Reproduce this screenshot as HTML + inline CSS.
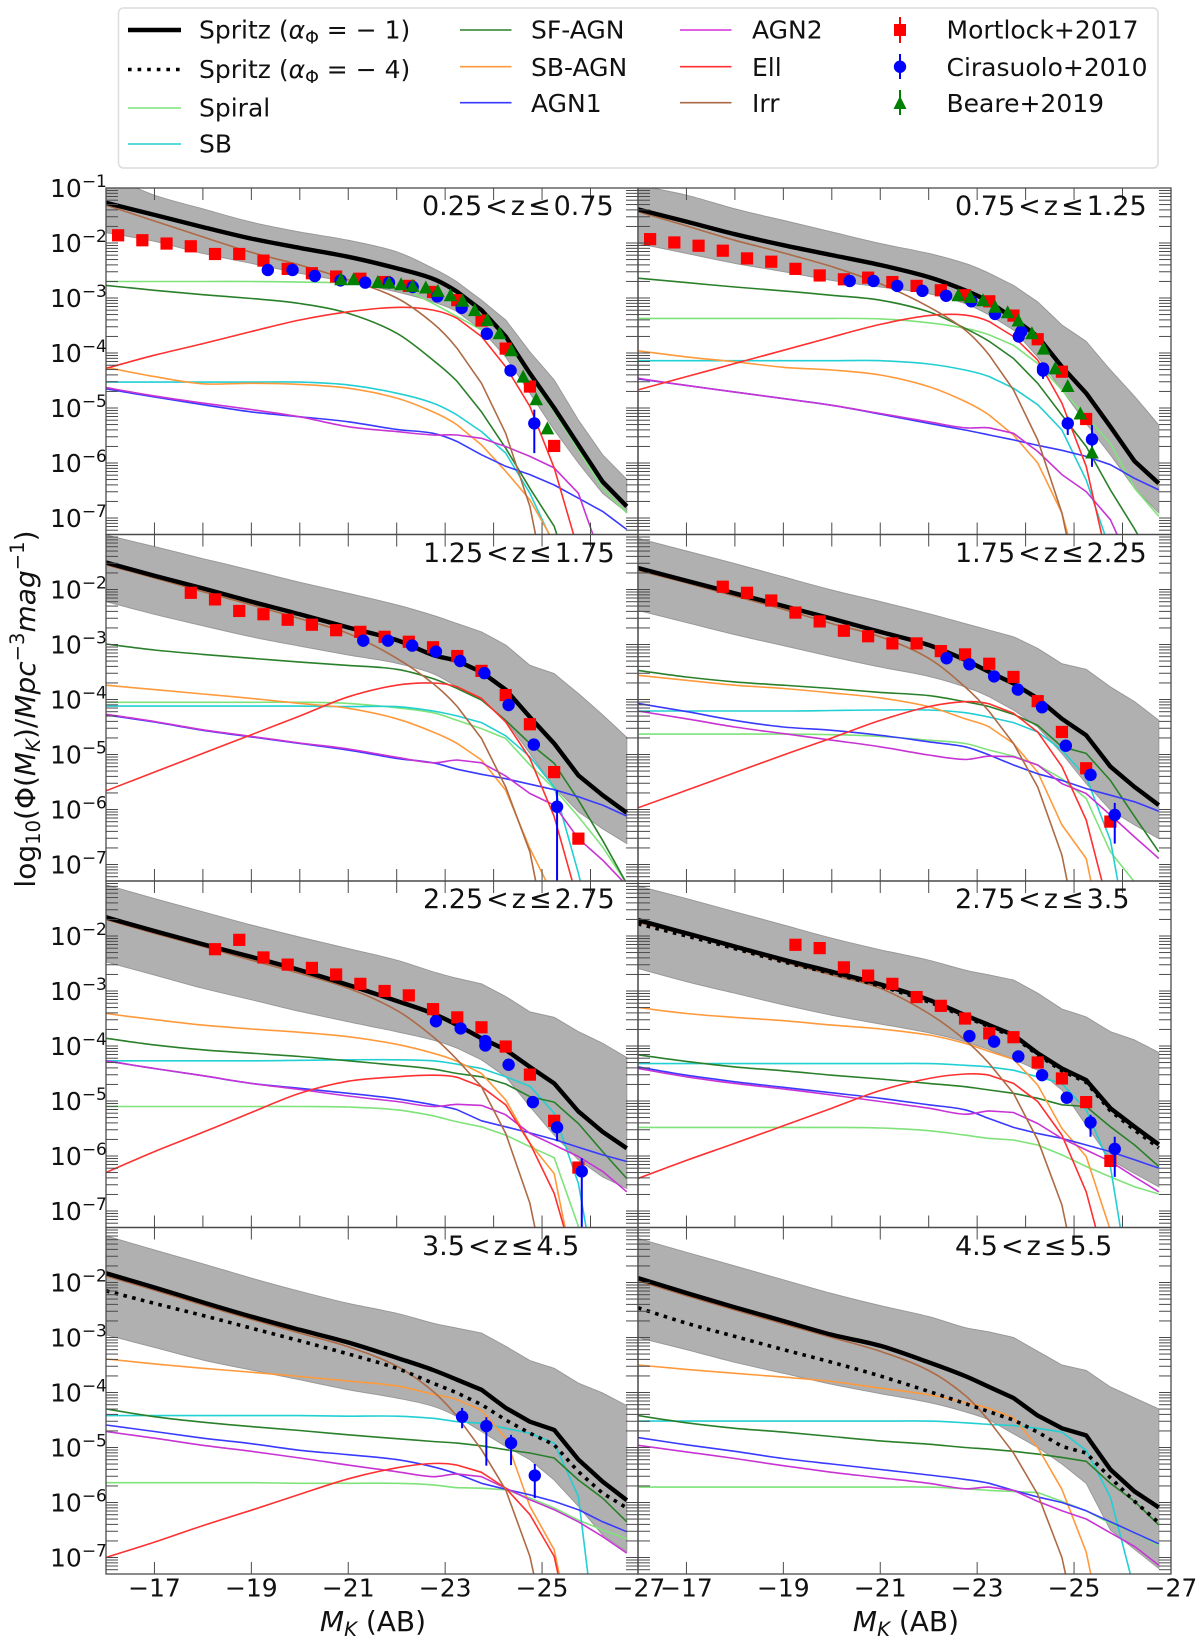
<!DOCTYPE html>
<html lang="en">
<head>
<meta charset="utf-8">
<title>Luminosity functions</title>
<style>
html,body{margin:0;padding:0;background:#fff;}
svg{display:block;font-family:"DejaVu Sans","Liberation Sans",sans-serif;}
text{fill:#111;}
</style>
</head>
<body>
<svg id="chart" xmlns="http://www.w3.org/2000/svg" width="1200" height="1644" viewBox="0 0 1200 1644">
<defs>
<clipPath id="clip-0"><rect x="106" y="188" width="532" height="346.5"/></clipPath>
<clipPath id="clip-1"><rect x="638" y="188" width="533" height="346.5"/></clipPath>
<clipPath id="clip-2"><rect x="106" y="534.5" width="532" height="346.5"/></clipPath>
<clipPath id="clip-3"><rect x="638" y="534.5" width="533" height="346.5"/></clipPath>
<clipPath id="clip-4"><rect x="106" y="881" width="532" height="346.5"/></clipPath>
<clipPath id="clip-5"><rect x="638" y="881" width="533" height="346.5"/></clipPath>
<clipPath id="clip-6"><rect x="106" y="1227.5" width="532" height="346.5"/></clipPath>
<clipPath id="clip-7"><rect x="638" y="1227.5" width="533" height="346.5"/></clipPath>
</defs>

<g id="panels"></g>

<g font-size="27">
<text x="422" y="215">0.25<tspan dx="3">&lt;</tspan><tspan dx="3">z</tspan><tspan dx="3">≤</tspan><tspan dx="3">0.75</tspan></text>
<text x="955" y="215">0.75<tspan dx="3">&lt;</tspan><tspan dx="3">z</tspan><tspan dx="3">≤</tspan><tspan dx="3">1.25</tspan></text>
<text x="423" y="562">1.25<tspan dx="3">&lt;</tspan><tspan dx="3">z</tspan><tspan dx="3">≤</tspan><tspan dx="3">1.75</tspan></text>
<text x="955" y="562">1.75<tspan dx="3">&lt;</tspan><tspan dx="3">z</tspan><tspan dx="3">≤</tspan><tspan dx="3">2.25</tspan></text>
<text x="423" y="908">2.25<tspan dx="3">&lt;</tspan><tspan dx="3">z</tspan><tspan dx="3">≤</tspan><tspan dx="3">2.75</tspan></text>
<text x="955" y="908">2.75<tspan dx="3">&lt;</tspan><tspan dx="3">z</tspan><tspan dx="3">≤</tspan><tspan dx="3">3.5</tspan></text>
<text x="422" y="1255">3.5<tspan dx="3">&lt;</tspan><tspan dx="3">z</tspan><tspan dx="3">≤</tspan><tspan dx="3">4.5</tspan></text>
<text x="955" y="1255">4.5<tspan dx="3">&lt;</tspan><tspan dx="3">z</tspan><tspan dx="3">≤</tspan><tspan dx="3">5.5</tspan></text>
</g>

<text x="373" y="1631" font-size="28" text-anchor="middle"><tspan font-style="italic">M</tspan><tspan font-size="19.6" font-style="italic" dy="5">K</tspan><tspan dy="-5"> (AB)</tspan></text>
<text x="906" y="1631" font-size="28" text-anchor="middle"><tspan font-style="italic">M</tspan><tspan font-size="19.6" font-style="italic" dy="5">K</tspan><tspan dy="-5"> (AB)</tspan></text>
<text transform="translate(35,709) rotate(-90)" font-size="28" text-anchor="middle">log<tspan font-size="19.6" dy="5">10</tspan><tspan dy="-5">(Φ(</tspan><tspan font-style="italic">M</tspan><tspan font-size="19.6" font-style="italic" dy="5">K</tspan><tspan dy="-5">)/</tspan><tspan font-style="italic">Mpc</tspan><tspan font-size="19.6" dy="-11">−3</tspan><tspan font-style="italic" dy="11">mag</tspan><tspan font-size="19.6" dy="-11">−1</tspan><tspan dy="11">)</tspan></text>

<g>
<rect x="118.5" y="8" width="1039.5" height="160" rx="5" ry="5" fill="#fff" stroke="#dcdcdc" stroke-width="1.5"/>
<g font-size="25">
<g><line x1="128" x2="181" y1="30" y2="30" stroke="#000" stroke-width="4.5"/><text x="199" y="38.3">Spritz (<tspan font-style="italic">α</tspan><tspan font-size="17.5" dy="5">Φ</tspan><tspan dy="-5"> = − 1)</tspan></text></g>
<g><line x1="128" x2="181" y1="69.5" y2="69.5" stroke="#000" stroke-width="3.6" stroke-dasharray="3.6,6"/><text x="199" y="78">Spritz (<tspan font-style="italic">α</tspan><tspan font-size="17.5" dy="5">Φ</tspan><tspan dy="-5"> = − 4)</tspan></text></g>
<g><line x1="128" x2="181" y1="108" y2="108" stroke="#7fe37a" stroke-width="1.6"/><text x="199" y="116.7">Spiral</text></g>
<g><line x1="128" x2="181" y1="144" y2="144" stroke="#22cfd3" stroke-width="1.6"/><text x="199" y="152.7">SB</text></g>
<g><line x1="460" x2="511.5" y1="30" y2="30" stroke="#2a802a" stroke-width="1.6"/><text x="531" y="38.3">SF-AGN</text></g>
<g><line x1="460" x2="511.5" y1="66.7" y2="66.7" stroke="#ff9a3c" stroke-width="1.6"/><text x="531" y="76">SB-AGN</text></g>
<g><line x1="460" x2="511.5" y1="102.7" y2="102.7" stroke="#3a3aff" stroke-width="1.6"/><text x="531" y="112">AGN1</text></g>
<g><line x1="680" x2="731.5" y1="30" y2="30" stroke="#d62fdc" stroke-width="1.6"/><text x="752" y="38.3">AGN2</text></g>
<g><line x1="680" x2="731.5" y1="66.7" y2="66.7" stroke="#ff3030" stroke-width="1.6"/><text x="752" y="76">Ell</text></g>
<g><line x1="680" x2="731.5" y1="102.7" y2="102.7" stroke="#ad6a45" stroke-width="1.6"/><text x="752" y="112">Irr</text></g>
<g><line x1="900" x2="900" y1="17" y2="43" stroke="#f00" stroke-width="2"/><rect x="894" y="24" width="12" height="12" fill="#f00"/><text x="946.5" y="38.3">Mortlock+2017</text></g>
<g><line x1="900" x2="900" y1="54" y2="79" stroke="#00f" stroke-width="2"/><circle cx="900" cy="66.7" r="6.2" fill="#00f"/><text x="946.5" y="76">Cirasuolo+2010</text></g>
<g><line x1="900" x2="900" y1="90" y2="115" stroke="#008000" stroke-width="2"/><polygon points="900,96 906.5,109 893.5,109" fill="#008000"/><text x="946.5" y="112">Beare+2019</text></g>
</g>
</g>
</svg>

<script>
// Absolute K magnitude nodes shared by all model curves
const magGrid = [-16,-17,-18,-19,-20,-21,-22,-22.75,-23.25,-23.75,-24.25,-24.75,-25.25,-25.75,-26.25,-26.75];
const xTickMajor = [-17,-19,-21,-23,-25,-27];
const xTickLabels = ['−17','−19','−21','−23','−25','−27'];
const xTickAll = [-17,-18,-19,-20,-21,-22,-23,-24,-25,-26,-27];
const yDecades = [-1,-2,-3,-4,-5,-6,-7];
const yDecadeLabels = ['−1','−2','−3','−4','−5','−6','−7'];

// Panel 0: 0.25<z<=0.75  (all values log10 Phi)
const p0Spritz=[-1.27,-1.49,-1.71,-1.92,-2.09,-2.25,-2.46,-2.65,-2.89,-3.22,-3.70,-4.37,-5.0,-5.67,-6.34,-6.79];
const p0High=[-0.76,-1.13,-1.38,-1.62,-1.8,-1.95,-2.16,-2.46,-2.71,-3.04,-3.40,-3.98,-4.49,-5.22,-5.85,-6.3];
const p0Low=[-1.81,-1.97,-2.19,-2.37,-2.55,-2.71,-2.89,-3.07,-3.25,-3.58,-4.07,-4.73,-5.40,-6.0,-6.55,-6.9];
const p0Irr=[-1.31,-1.60,-1.89,-2.17,-2.40,-2.67,-3.0,-3.46,-3.92,-4.55,-5.46,-6.79,-9,-9,-9,-9];
const p0Spiral=[-2.70,-2.70,-2.70,-2.70,-2.71,-2.73,-2.80,-3.10,-3.34,-3.58,-3.76,-4.43,-5.07,-5.76,-6.46,-6.91];
const p0SfAgn=[-2.77,-2.86,-2.94,-3.01,-3.10,-3.28,-3.64,-4.13,-4.52,-5.07,-5.73,-6.46,-7.15,-8.5,-9.5,-10];
const p0Ell=[-4.28,-4.04,-3.83,-3.61,-3.40,-3.25,-3.17,-3.22,-3.37,-3.70,-4.25,-4.97,-6.09,-7.6,-9,-10];
const p0SbAgn=[-4.26,-4.43,-4.56,-4.55,-4.57,-4.64,-4.82,-5.07,-5.31,-5.67,-6.15,-6.67,-7.45,-9,-10,-10];
const p0Sb=[-4.53,-4.53,-4.53,-4.53,-4.53,-4.58,-4.73,-4.91,-5.13,-5.43,-5.82,-6.55,-7.5,-9,-10,-10];
const p0Agn1=[-4.65,-4.8,-4.94,-5.07,-5.16,-5.25,-5.39,-5.46,-5.61,-5.85,-6.06,-6.21,-6.40,-6.64,-6.88,-7.21];
const p0Agn2=[-4.63,-4.78,-4.91,-5.03,-5.16,-5.34,-5.43,-5.49,-5.49,-5.55,-5.7,-5.88,-6.09,-6.55,-7.8,-9];
const p0MortMag=[-16.25,-16.75,-17.25,-17.75,-18.25,-18.75,-19.25,-19.75,-20.25,-20.75,-21.25,-21.75,-22.25,-22.75,-23.25,-23.75,-24.25,-24.75,-25.25];
const p0MortPhi=[-1.86,-1.95,-2.01,-2.06,-2.2,-2.2,-2.32,-2.47,-2.55,-2.61,-2.65,-2.71,-2.78,-2.89,-3.04,-3.41,-3.92,-4.61,-5.69];
const p0CirMag=[-19.34,-19.85,-20.31,-20.84,-21.35,-21.84,-22.33,-22.84,-23.34,-23.86,-24.35,-24.84];
const p0CirPhi=[-2.49,-2.49,-2.60,-2.68,-2.72,-2.72,-2.80,-2.97,-3.18,-3.65,-4.32,-5.28];
const p0CirErrLo=[0,0,0,0,0,0,0,0,0,0,0,0.54];
const p0CirErrHi=[0,0,0,0,0,0,0,0,0,0,0,0.25];
const p0BeaMag=[-20.85,-21.11,-21.61,-21.84,-22.09,-22.33,-22.6,-22.85,-23.11,-23.36,-23.61,-23.87,-24.12,-24.37,-24.61,-24.88,-25.11];
const p0BeaPhi=[-2.66,-2.66,-2.71,-2.72,-2.75,-2.78,-2.81,-2.87,-2.95,-3.05,-3.22,-3.40,-3.64,-3.95,-4.43,-4.84,-5.37];

// Panel 1: 0.75<z<=1.25
const p1Spritz=[-1.39,-1.61,-1.84,-2.04,-2.22,-2.40,-2.62,-2.86,-3.07,-3.37,-3.70,-4.25,-4.73,-5.34,-5.97,-6.37];
const p1High=[-0.95,-1.13,-1.38,-1.59,-1.80,-2.01,-2.19,-2.37,-2.55,-2.77,-3.07,-3.49,-3.79,-4.31,-4.79,-5.31];
const p1Low=[-2.01,-2.19,-2.37,-2.52,-2.68,-2.80,-2.92,-3.10,-3.31,-3.58,-4.07,-4.67,-5.28,-5.85,-6.46,-6.91];
const p1Irr=[-1.43,-1.69,-1.95,-2.18,-2.43,-2.74,-3.16,-3.58,-4.04,-4.67,-5.58,-6.91,-9,-9,-9,-9];
const p1Spiral=[-3.37,-3.37,-3.37,-3.37,-3.37,-3.38,-3.45,-3.55,-3.67,-3.86,-4.19,-4.67,-5.16,-5.64,-6.46,-6.97];
const p1SfAgn=[-2.64,-2.72,-2.80,-2.87,-2.95,-3.04,-3.25,-3.55,-3.79,-4.10,-4.55,-5.13,-5.70,-6.49,-7.2,-8];
const p1Ell=[-4.67,-4.43,-4.19,-3.95,-3.71,-3.48,-3.32,-3.31,-3.43,-3.70,-4.13,-4.91,-6.06,-8,-9,-10];
const p1SbAgn=[-3.96,-4.07,-4.16,-4.26,-4.31,-4.40,-4.61,-4.88,-5.13,-5.49,-6.0,-6.91,-8.5,-9,-10,-10];
const p1Sb=[-4.14,-4.14,-4.14,-4.14,-4.14,-4.14,-4.20,-4.31,-4.43,-4.64,-4.94,-5.40,-6.31,-7.6,-9,-10];
const p1Agn1=[-4.47,-4.59,-4.71,-4.83,-4.95,-5.11,-5.28,-5.40,-5.49,-5.58,-5.68,-5.77,-5.88,-6.03,-6.28,-6.49];
const p1Agn2=[-4.46,-4.59,-4.71,-4.83,-4.95,-5.10,-5.25,-5.36,-5.36,-5.46,-5.79,-6.21,-6.52,-7.03,-8,-9];
const p1MortMag=[-16.25,-16.75,-17.25,-17.75,-18.25,-18.75,-19.25,-19.75,-20.25,-20.75,-21.25,-21.75,-22.25,-22.75,-23.25,-23.75,-24.25,-24.75,-25.25];
const p1MortPhi=[-1.93,-1.99,-2.05,-2.14,-2.28,-2.34,-2.47,-2.59,-2.66,-2.63,-2.71,-2.78,-2.86,-2.95,-3.06,-3.32,-3.75,-4.34,-5.20];
const p1CirMag=[-20.37,-20.86,-21.35,-21.87,-22.36,-22.88,-23.37,-23.86,-23.91,-24.36,-24.36,-24.87,-25.37];
const p1CirPhi=[-2.69,-2.69,-2.78,-2.87,-2.96,-3.06,-3.29,-3.70,-3.61,-4.28,-4.32,-5.28,-5.57];
const p1CirErrLo=[0,0,0,0,0,0,0,0,0,0,0.15,0.21,0.50];
const p1CirErrHi=[0,0,0,0,0,0,0,0,0,0,0,0.12,0.26];
const p1BeaMag=[-22.61,-22.86,-23.12,-23.37,-23.63,-23.85,-24.13,-24.37,-24.61,-24.87,-25.13,-25.37];
const p1BeaPhi=[-2.95,-2.98,-3.04,-3.16,-3.26,-3.41,-3.64,-3.92,-4.28,-4.60,-5.10,-5.81];

// Panel 2: 1.25<z<=1.75
const p2Spritz=[-1.51,-1.75,-1.98,-2.22,-2.45,-2.69,-2.92,-3.19,-3.30,-3.50,-3.82,-4.32,-4.80,-5.38,-5.74,-6.06];
const p2High=[-1.01,-1.22,-1.44,-1.65,-1.87,-2.07,-2.28,-2.47,-2.62,-2.77,-3.01,-3.38,-3.53,-3.89,-4.28,-4.69];
const p2Low=[-2.22,-2.45,-2.66,-2.86,-3.03,-3.19,-3.34,-3.53,-3.77,-4.01,-4.38,-4.98,-5.59,-6.04,-6.35,-6.62];
const p2Irr=[-1.55,-1.79,-2.04,-2.28,-2.53,-2.80,-3.25,-3.71,-4.13,-4.71,-5.59,-6.77,-9,-9,-9,-9];
const p2Spiral=[-4.05,-4.05,-4.05,-4.05,-4.05,-4.07,-4.15,-4.24,-4.38,-4.53,-4.71,-5.19,-5.62,-6.13,-6.68,-7.35];
const p2SfAgn=[-2.99,-3.10,-3.18,-3.25,-3.32,-3.38,-3.45,-3.62,-3.80,-4.01,-4.38,-4.80,-5.16,-5.83,-6.56,-7.35];
const p2Ell=[-5.66,-5.32,-4.98,-4.64,-4.30,-3.95,-3.74,-3.70,-3.77,-3.98,-4.41,-5.07,-6.13,-7.7,-9,-10];
const p2SbAgn=[-3.74,-3.82,-3.90,-3.98,-4.07,-4.16,-4.35,-4.59,-4.80,-5.10,-5.65,-6.71,-7.6,-9,-10,-10];
const p2Sb=[-4.12,-4.12,-4.12,-4.12,-4.12,-4.13,-4.13,-4.21,-4.30,-4.42,-4.66,-5.04,-5.59,-7.16,-9,-10];
const p2Agn1=[-4.28,-4.41,-4.56,-4.68,-4.80,-4.92,-5.07,-5.15,-5.27,-5.36,-5.44,-5.54,-5.64,-5.77,-5.92,-6.12];
const p2Agn2=[-4.27,-4.40,-4.55,-4.67,-4.79,-4.90,-5.05,-5.15,-5.10,-5.15,-5.39,-5.71,-5.92,-6.53,-6.92,-7.38];
const p2MortMag=[-17.75,-18.25,-18.75,-19.25,-19.75,-20.25,-20.75,-21.25,-21.75,-22.25,-22.75,-23.25,-23.75,-24.25,-24.75,-25.25,-25.75];
const p2MortPhi=[-2.06,-2.18,-2.39,-2.45,-2.55,-2.64,-2.74,-2.77,-2.86,-2.95,-3.05,-3.21,-3.48,-3.92,-4.45,-5.32,-6.53];
const p2CirMag=[-21.31,-21.82,-22.32,-22.81,-23.31,-23.81,-24.31,-24.83,-25.31];
const p2CirPhi=[-2.93,-2.93,-3.02,-3.13,-3.30,-3.52,-4.10,-4.82,-5.95];
const p2CirErrLo=[0,0,0,0,0,0,0,0,2.5];
const p2CirErrHi=[0,0,0,0,0,0,0,0,0.3];
const p2BeaMag=[];
const p2BeaPhi=[];

// Panel 3: 1.75<z<=2.25
const p3Spritz=[-1.61,-1.84,-2.07,-2.30,-2.53,-2.77,-3.01,-3.28,-3.50,-3.71,-3.98,-4.35,-4.65,-5.22,-5.59,-5.92];
const p3High=[-1.07,-1.30,-1.53,-1.77,-2.01,-2.22,-2.44,-2.62,-2.74,-2.86,-3.07,-3.35,-3.45,-3.77,-4.04,-4.38];
const p3Low=[-2.38,-2.60,-2.82,-3.02,-3.22,-3.41,-3.58,-3.77,-3.95,-4.19,-4.50,-4.98,-5.53,-6.01,-6.28,-6.53];
const p3Irr=[-1.65,-1.88,-2.12,-2.36,-2.62,-2.86,-3.25,-3.77,-4.22,-4.80,-5.59,-6.83,-9,-9,-9,-9];
const p3Spiral=[-4.63,-4.63,-4.63,-4.63,-4.64,-4.67,-4.74,-4.80,-4.92,-5.03,-5.19,-5.44,-5.80,-6.77,-7.32,-8];
const p3SfAgn=[-3.47,-3.59,-3.68,-3.74,-3.80,-3.87,-3.93,-4.04,-4.13,-4.27,-4.47,-4.86,-4.98,-5.47,-6.13,-6.77];
const p3Ell=[-5.97,-5.65,-5.33,-5.01,-4.70,-4.38,-4.13,-4.04,-4.08,-4.25,-4.59,-5.22,-6.19,-7.9,-9,-10];
const p3SbAgn=[-3.56,-3.65,-3.74,-3.80,-3.88,-3.97,-4.13,-4.35,-4.50,-4.80,-5.32,-6.28,-6.89,-9,-10,-10];
const p3Sb=[-4.21,-4.21,-4.21,-4.21,-4.20,-4.19,-4.19,-4.24,-4.32,-4.42,-4.59,-4.92,-5.41,-6.56,-9,-10];
const p3Agn1=[-4.07,-4.22,-4.38,-4.50,-4.56,-4.65,-4.77,-4.86,-5.01,-5.19,-5.35,-5.47,-5.62,-5.74,-5.86,-6.03];
const p3Agn2=[-4.21,-4.35,-4.50,-4.62,-4.74,-4.86,-5.01,-5.09,-5.03,-5.04,-5.19,-5.53,-5.71,-6.10,-6.50,-6.89];
const p3MortMag=[-17.75,-18.25,-18.75,-19.25,-19.75,-20.25,-20.75,-21.25,-21.75,-22.25,-22.75,-23.25,-23.75,-24.25,-24.75,-25.25,-25.75];
const p3MortPhi=[-1.95,-2.06,-2.20,-2.42,-2.58,-2.75,-2.85,-2.98,-2.98,-3.12,-3.18,-3.35,-3.59,-4.03,-4.59,-5.25,-6.22];
const p3CirMag=[-22.37,-22.84,-23.35,-23.84,-24.34,-24.83,-25.34,-25.84];
const p3CirPhi=[-3.25,-3.36,-3.58,-3.82,-4.14,-4.84,-5.37,-6.10];
const p3CirErrLo=[0,0,0,0,0,0,0.1,0.52];
const p3CirErrHi=[0,0,0,0,0,0,0,0.22];
const p3BeaMag=[];
const p3BeaPhi=[];

// Panel 4: 2.25<z<=2.75
const p4Spritz=[-1.66,-1.91,-2.15,-2.38,-2.62,-2.89,-3.18,-3.41,-3.62,-3.86,-4.07,-4.38,-4.68,-5.19,-5.56,-5.86];
const p4High=[-1.07,-1.32,-1.56,-1.80,-2.02,-2.23,-2.44,-2.65,-2.77,-2.87,-3.10,-3.38,-3.48,-3.74,-3.95,-4.21];
const p4Low=[-2.47,-2.71,-2.95,-3.16,-3.37,-3.56,-3.74,-3.89,-4.04,-4.25,-4.56,-5.10,-5.62,-6.07,-6.38,-6.59];
const p4Irr=[-1.70,-1.95,-2.19,-2.44,-2.68,-2.95,-3.35,-3.83,-4.25,-4.74,-5.59,-6.86,-9,-9,-9,-9];
const p4Spiral=[-5.10,-5.10,-5.10,-5.10,-5.10,-5.11,-5.16,-5.27,-5.38,-5.47,-5.62,-5.83,-6.03,-7.28,-9,-10];
const p4SfAgn=[-3.86,-3.98,-4.07,-4.13,-4.19,-4.27,-4.35,-4.42,-4.50,-4.56,-4.69,-4.92,-5.02,-5.41,-5.92,-6.41];
const p4Ell=[-6.30,-5.92,-5.57,-5.21,-4.86,-4.64,-4.56,-4.53,-4.57,-4.74,-5.07,-5.77,-6.68,-8.2,-9,-10];
const p4SbAgn=[-3.41,-3.52,-3.62,-3.69,-3.75,-3.83,-3.97,-4.13,-4.28,-4.50,-4.98,-5.77,-6.32,-8.5,-9,-10];
const p4Sb=[-4.27,-4.27,-4.27,-4.27,-4.26,-4.25,-4.25,-4.27,-4.33,-4.41,-4.56,-4.73,-5.22,-6.50,-9,-10];
const p4Agn1=[-4.27,-4.41,-4.54,-4.68,-4.77,-4.86,-4.96,-5.07,-5.16,-5.36,-5.47,-5.58,-5.70,-5.84,-5.98,-6.10];
const p4Agn2=[-4.27,-4.41,-4.54,-4.68,-4.79,-4.91,-5.01,-5.10,-5.06,-5.08,-5.25,-5.59,-5.80,-6.01,-6.28,-6.65];
const p4MortMag=[-18.25,-18.75,-19.25,-19.75,-20.25,-20.75,-21.25,-21.75,-22.25,-22.75,-23.25,-23.75,-24.25,-24.75,-25.25,-25.75];
const p4MortPhi=[-2.24,-2.07,-2.39,-2.52,-2.58,-2.70,-2.87,-3.0,-3.08,-3.33,-3.48,-3.66,-4.01,-4.52,-5.36,-6.21];
const p4CirMag=[-22.81,-23.32,-23.83,-23.83,-24.31,-24.81,-25.31,-25.82];
const p4CirPhi=[-3.55,-3.68,-3.91,-3.99,-4.34,-5.02,-5.48,-6.28];
const p4CirErrLo=[0,0,0,0,0,0.08,0.25,2];
const p4CirErrHi=[0,0,0,0,0,0,0,0.24];
const p4BeaMag=[];
const p4BeaPhi=[];

// Panel 5: 2.75<z<=3.5
const p5Spritz=[-1.71,-1.95,-2.19,-2.43,-2.65,-2.88,-3.16,-3.44,-3.62,-3.80,-4.13,-4.41,-4.62,-5.13,-5.47,-5.79];
const p5Dotted=[-1.78,-2.0,-2.23,-2.47,-2.68,-2.91,-3.2,-3.47,-3.65,-3.83,-4.16,-4.45,-4.66,-5.18,-5.53,-5.85];
const p5High=[-1.09,-1.32,-1.56,-1.80,-2.04,-2.25,-2.44,-2.62,-2.71,-2.80,-3.04,-3.33,-3.47,-3.74,-3.89,-4.12];
const p5Low=[-2.59,-2.83,-3.04,-3.25,-3.44,-3.60,-3.76,-3.92,-4.07,-4.24,-4.44,-4.80,-5.44,-6.07,-6.32,-6.56];
const p5Irr=[-1.75,-1.98,-2.22,-2.47,-2.71,-2.95,-3.41,-3.89,-4.32,-4.86,-5.71,-6.89,-9,-9,-9,-9];
const p5Spiral=[-5.48,-5.48,-5.48,-5.48,-5.48,-5.49,-5.54,-5.62,-5.68,-5.71,-5.80,-5.98,-6.19,-6.38,-6.56,-6.69];
const p5SfAgn=[-4.16,-4.28,-4.38,-4.45,-4.53,-4.60,-4.68,-4.74,-4.80,-4.86,-4.95,-5.07,-5.10,-5.47,-5.80,-6.19];
const p5Ell=[-6.41,-6.08,-5.77,-5.45,-5.13,-4.81,-4.59,-4.51,-4.53,-4.68,-5.01,-5.62,-6.65,-8.3,-9,-10];
const p5SbAgn=[-3.30,-3.41,-3.48,-3.54,-3.62,-3.69,-3.80,-3.95,-4.10,-4.24,-4.71,-5.50,-6.01,-7.35,-9,-10];
const p5Sb=[-4.32,-4.32,-4.32,-4.32,-4.32,-4.32,-4.32,-4.35,-4.38,-4.44,-4.56,-4.68,-5.16,-6.19,-8.9,-10];
const p5Agn1=[-4.38,-4.53,-4.65,-4.75,-4.85,-4.95,-5.07,-5.16,-5.32,-5.48,-5.59,-5.68,-5.80,-5.92,-6.07,-6.22];
const p5Agn2=[-4.41,-4.56,-4.68,-4.78,-4.89,-5.01,-5.13,-5.24,-5.18,-5.21,-5.41,-5.68,-5.89,-6.10,-6.38,-6.65];
const p5MortMag=[-19.25,-19.75,-20.25,-20.75,-21.25,-21.75,-22.25,-22.75,-23.25,-23.75,-24.25,-24.75,-25.25,-25.75];
const p5MortPhi=[-2.16,-2.22,-2.57,-2.72,-2.87,-3.11,-3.27,-3.50,-3.77,-3.84,-4.30,-4.59,-5.02,-6.09];
const p5CirMag=[-22.84,-23.35,-23.85,-24.34,-24.85,-25.34,-25.84];
const p5CirPhi=[-3.82,-3.92,-4.19,-4.53,-4.94,-5.39,-5.87];
const p5CirErrLo=[0,0,0,0,0.1,0.26,0.51];
const p5CirErrHi=[0,0,0,0,0,0.14,0.22];
const p5BeaMag=[];
const p5BeaPhi=[];

// Panel 6: 3.5<z<=4.5
const p6Spritz=[-1.83,-2.09,-2.36,-2.62,-2.86,-3.09,-3.37,-3.59,-3.77,-3.95,-4.28,-4.53,-4.68,-5.22,-5.62,-5.96];
const p6Dotted=[-2.15,-2.38,-2.60,-2.83,-3.06,-3.30,-3.56,-3.83,-4.01,-4.22,-4.50,-4.74,-4.95,-5.44,-5.83,-6.10];
const p6High=[-1.15,-1.41,-1.66,-1.92,-2.16,-2.38,-2.56,-2.74,-2.83,-2.92,-3.16,-3.42,-3.56,-3.83,-4.01,-4.24];
const p6Low=[-2.95,-3.18,-3.41,-3.59,-3.77,-3.95,-4.10,-4.25,-4.44,-4.71,-4.98,-5.22,-5.59,-6.07,-6.59,-6.89];
const p6Irr=[-1.88,-2.14,-2.41,-2.67,-2.92,-3.17,-3.52,-3.98,-4.44,-5.04,-5.77,-6.98,-9,-9,-9,-9];
const p6Spiral=[-5.64,-5.64,-5.64,-5.64,-5.65,-5.65,-5.65,-5.68,-5.73,-5.74,-5.77,-5.92,-6.10,-6.32,-6.50,-6.66];
const p6SfAgn=[-4.30,-4.44,-4.54,-4.62,-4.69,-4.77,-4.84,-4.89,-4.92,-4.97,-5.04,-5.10,-5.19,-5.59,-5.92,-6.35];
const p6Ell=[-7.0,-6.72,-6.42,-6.14,-5.85,-5.57,-5.37,-5.29,-5.32,-5.45,-5.74,-6.22,-6.98,-9,-10,-10];
const p6SbAgn=[-3.39,-3.48,-3.56,-3.63,-3.71,-3.79,-3.88,-4.03,-4.13,-4.32,-4.83,-6.07,-6.86,-9,-10,-10];
const p6Sb=[-4.42,-4.42,-4.42,-4.42,-4.42,-4.43,-4.43,-4.47,-4.53,-4.56,-4.65,-4.74,-4.92,-5.89,-9.5,-10];
const p6Agn1=[-4.59,-4.71,-4.83,-4.93,-5.05,-5.13,-5.22,-5.35,-5.48,-5.65,-5.76,-5.86,-5.98,-6.13,-6.35,-6.53];
const p6Agn2=[-4.71,-4.83,-4.96,-5.07,-5.19,-5.32,-5.44,-5.53,-5.48,-5.53,-5.74,-5.95,-6.13,-6.35,-6.62,-6.92];
const p6MortMag=[];
const p6MortPhi=[];
const p6CirMag=[-23.35,-23.85,-24.36,-24.85];
const p6CirPhi=[-4.44,-4.61,-4.92,-5.51];
const p6CirErrLo=[0.21,0.72,0.40,0.41];
const p6CirErrHi=[0.16,0.16,0.15,0.21];
const p6BeaMag=[];
const p6BeaPhi=[];

// Panel 7: 4.5<z<=5.5
const p7Spritz=[-1.92,-2.19,-2.45,-2.70,-2.95,-3.15,-3.45,-3.70,-3.90,-4.10,-4.42,-4.65,-4.78,-5.40,-5.80,-6.09];
const p7Dotted=[-2.46,-2.74,-2.98,-3.22,-3.45,-3.70,-3.98,-4.2,-4.35,-4.5,-4.72,-4.98,-5.1,-5.55,-5.98,-6.37];
const p7High=[-1.2,-1.45,-1.7,-1.95,-2.2,-2.42,-2.62,-2.82,-2.9,-3.0,-3.25,-3.5,-3.6,-3.9,-4.1,-4.3];
const p7Low=[-3.0,-3.22,-3.45,-3.65,-3.85,-4.02,-4.18,-4.35,-4.5,-4.75,-5.0,-5.3,-5.65,-6.5,-6.85,-7.2];
const p7Irr=[-1.97,-2.24,-2.5,-2.75,-3.0,-3.25,-3.6,-4.05,-4.52,-5.1,-5.85,-7.0,-9,-9,-9,-9];
const p7Spiral=[-5.72,-5.72,-5.72,-5.72,-5.72,-5.72,-5.72,-5.75,-5.78,-5.8,-5.82,-5.98,-6.15,-6.38,-6.55,-6.78];
const p7SfAgn=[-4.42,-4.55,-4.65,-4.72,-4.8,-4.88,-4.94,-5.0,-5.03,-5.07,-5.12,-5.18,-5.25,-5.65,-5.98,-6.41];
const p7SbAgn=[-3.5,-3.58,-3.65,-3.72,-3.8,-3.92,-4.04,-4.18,-4.29,-4.46,-5.0,-5.76,-6.9,-9,-10,-10];
const p7Sb=[-4.52,-4.52,-4.52,-4.52,-4.52,-4.52,-4.52,-4.55,-4.58,-4.6,-4.65,-4.72,-5.05,-5.9,-7.6,-9];
const p7Agn1=[-4.82,-4.95,-5.07,-5.2,-5.3,-5.4,-5.5,-5.58,-5.65,-5.78,-5.9,-6.0,-6.15,-6.35,-6.55,-6.75];
const p7Agn2=[-4.96,-5.08,-5.2,-5.33,-5.45,-5.55,-5.65,-5.75,-5.72,-5.78,-5.98,-6.15,-6.3,-6.55,-6.8,-7.14];
const p7MortMag=[];
const p7MortPhi=[];
const p7CirMag=[];
const p7CirPhi=[];
const p7BeaMag=[];
const p7BeaPhi=[];

const seriesStyles = {
  spiral:{color:'#7fe37a',name:'spiral'},
  sb:{color:'#22cfd3',name:'sb'},
  sfagn:{color:'#2a802a',name:'sf-agn'},
  sbagn:{color:'#ff9a3c',name:'sb-agn'},
  agn1:{color:'#3a3aff',name:'agn1'},
  agn2:{color:'#c834d4',name:'agn2'},
  ell:{color:'#ff3030',name:'ell'},
  irr:{color:'#ad6a45',name:'irr'}
};

const panels = [
 {L:106,W:532,T:188,row:0,spritz:p0Spritz,hi:p0High,lo:p0Low,irr:p0Irr,spiral:p0Spiral,sfagn:p0SfAgn,ell:p0Ell,sbagn:p0SbAgn,sb:p0Sb,agn1:p0Agn1,agn2:p0Agn2,mm:p0MortMag,mp:p0MortPhi,cm:p0CirMag,cp:p0CirPhi,cl:p0CirErrLo,ch:p0CirErrHi,bm:p0BeaMag,bp:p0BeaPhi},
 {L:638,W:533,T:188,row:0,spritz:p1Spritz,hi:p1High,lo:p1Low,irr:p1Irr,spiral:p1Spiral,sfagn:p1SfAgn,ell:p1Ell,sbagn:p1SbAgn,sb:p1Sb,agn1:p1Agn1,agn2:p1Agn2,mm:p1MortMag,mp:p1MortPhi,cm:p1CirMag,cp:p1CirPhi,cl:p1CirErrLo,ch:p1CirErrHi,bm:p1BeaMag,bp:p1BeaPhi},
 {L:106,W:532,T:534.5,row:1,spritz:p2Spritz,hi:p2High,lo:p2Low,irr:p2Irr,spiral:p2Spiral,sfagn:p2SfAgn,ell:p2Ell,sbagn:p2SbAgn,sb:p2Sb,agn1:p2Agn1,agn2:p2Agn2,mm:p2MortMag,mp:p2MortPhi,cm:p2CirMag,cp:p2CirPhi,cl:p2CirErrLo,ch:p2CirErrHi,bm:p2BeaMag,bp:p2BeaPhi},
 {L:638,W:533,T:534.5,row:1,spritz:p3Spritz,hi:p3High,lo:p3Low,irr:p3Irr,spiral:p3Spiral,sfagn:p3SfAgn,ell:p3Ell,sbagn:p3SbAgn,sb:p3Sb,agn1:p3Agn1,agn2:p3Agn2,mm:p3MortMag,mp:p3MortPhi,cm:p3CirMag,cp:p3CirPhi,cl:p3CirErrLo,ch:p3CirErrHi,bm:p3BeaMag,bp:p3BeaPhi},
 {L:106,W:532,T:881,row:2,spritz:p4Spritz,hi:p4High,lo:p4Low,irr:p4Irr,spiral:p4Spiral,sfagn:p4SfAgn,ell:p4Ell,sbagn:p4SbAgn,sb:p4Sb,agn1:p4Agn1,agn2:p4Agn2,mm:p4MortMag,mp:p4MortPhi,cm:p4CirMag,cp:p4CirPhi,cl:p4CirErrLo,ch:p4CirErrHi,bm:p4BeaMag,bp:p4BeaPhi},
 {L:638,W:533,T:881,row:2,spritz:p5Spritz,dotted:p5Dotted,hi:p5High,lo:p5Low,irr:p5Irr,spiral:p5Spiral,sfagn:p5SfAgn,ell:p5Ell,sbagn:p5SbAgn,sb:p5Sb,agn1:p5Agn1,agn2:p5Agn2,mm:p5MortMag,mp:p5MortPhi,cm:p5CirMag,cp:p5CirPhi,cl:p5CirErrLo,ch:p5CirErrHi,bm:p5BeaMag,bp:p5BeaPhi},
 {L:106,W:532,T:1227.5,row:3,spritz:p6Spritz,dotted:p6Dotted,hi:p6High,lo:p6Low,irr:p6Irr,spiral:p6Spiral,sfagn:p6SfAgn,ell:p6Ell,sbagn:p6SbAgn,sb:p6Sb,agn1:p6Agn1,agn2:p6Agn2,mm:p6MortMag,mp:p6MortPhi,cm:p6CirMag,cp:p6CirPhi,cl:p6CirErrLo,ch:p6CirErrHi,bm:p6BeaMag,bp:p6BeaPhi},
 {L:638,W:533,T:1227.5,row:3,spritz:p7Spritz,dotted:p7Dotted,hi:p7High,lo:p7Low,irr:p7Irr,spiral:p7Spiral,sfagn:p7SfAgn,sbagn:p7SbAgn,sb:p7Sb,agn1:p7Agn1,agn2:p7Agn2,mm:p7MortMag,mp:p7MortPhi,cm:p7CirMag,cp:p7CirPhi,bm:p7BeaMag,bp:p7BeaPhi}
];

const NS = 'http://www.w3.org/2000/svg';
const PX_PER_MAG = 48.45, PX_PER_DEX = 55, H = 346.5, TICK = 12;
const SMOOTH_UNTIL = 8;
const SPINE = '#4a4a4a';
const root = document.getElementById('panels');

function mk(tag, attrs, parent){
  const el = document.createElementNS(NS, tag);
  for (const k in attrs) el.setAttribute(k, attrs[k]);
  parent.appendChild(el);
  return el;
}

panels.forEach(function(p, idx){
  const xScale = function(m){ return p.L + (-16 - m) * PX_PER_MAG; };
  const yScale = function(v){ return p.T + (-1 - v) * PX_PER_DEX; };
  const f = function(n){ return n.toFixed(1); };

  // Segments between nodes: gentle curves on the faint end, straight on the bright end
  const segments = function(vals){
    const pts = vals.map(function(v,i){ return [xScale(magGrid[i]), yScale(v)]; });
    const slope = function(i){
      const a = pts[Math.max(i-1,0)], b = pts[Math.min(i+1,pts.length-1)];
      return (b[1]-a[1])/(b[0]-a[0]);
    };
    const segs = [];
    for (let i = 0; i < pts.length-1; i++) {
      const a = pts[i], b = pts[i+1], dx = (b[0]-a[0])/3;
      if (i < SMOOTH_UNTIL) {
        segs.push({a:a, b:b, c1:[a[0]+dx, a[1]+slope(i)*dx], c2:[b[0]-dx, b[1]-slope(i+1)*dx]});
      } else {
        segs.push({a:a, b:b, c1:[a[0]+dx, a[1]+(b[1]-a[1])/3], c2:[b[0]-dx, b[1]-(b[1]-a[1])/3]});
      }
    }
    return segs;
  };
  const forwardPath = function(vals){
    const s = segments(vals);
    let d = 'M'+f(s[0].a[0])+' '+f(s[0].a[1]);
    s.forEach(function(g){ d += 'C'+f(g.c1[0])+' '+f(g.c1[1])+' '+f(g.c2[0])+' '+f(g.c2[1])+' '+f(g.b[0])+' '+f(g.b[1]); });
    return d;
  };
  const reversePath = function(vals){
    const s = segments(vals);
    const last = s[s.length-1];
    let d = 'L'+f(last.b[0])+' '+f(last.b[1]);
    for (let i = s.length-1; i >= 0; i--) {
      const g = s[i];
      d += 'C'+f(g.c2[0])+' '+f(g.c2[1])+' '+f(g.c1[0])+' '+f(g.c1[1])+' '+f(g.a[0])+' '+f(g.a[1]);
    }
    return d;
  };

  const g = mk('g', {}, root);
  
  

  const plot = mk('g', {'clip-path':'url(#clip-'+idx+')'}, g);

  // uncertainty band
  const band = mk('path', {d: forwardPath(p.hi)+reversePath(p.lo)+'Z', fill:'#b0b0b0', stroke:'#999', 'stroke-width':'1'}, plot);
  
  

  // population curves
  ['spiral','sb','sfagn','sbagn','agn1','agn2','ell','irr'].forEach(function(key){
    if (!p[key]) return;
    const line = mk('path', {d: forwardPath(p[key]), fill:'none', stroke: seriesStyles[key].color, 'stroke-width':'1.6', 'stroke-linejoin':'round'}, plot);
    
    
  });

  // total model
  const total = mk('path', {d: forwardPath(p.spritz), fill:'none', stroke:'#000', 'stroke-width':'4.4', 'stroke-linejoin':'round'}, plot);
  
  
  if (p.dotted) {
    const dot = mk('path', {d: forwardPath(p.dotted), fill:'none', stroke:'#000', 'stroke-width':'3.6', 'stroke-dasharray':'3.6,5.4'}, plot);
    
    
  }

  // Mortlock squares
  p.mm.forEach(function(m,i){
    const cx = xScale(m), cy = yScale(p.mp[i]);
    const s = mk('rect', {x:cx-6.1, y:cy-6.1, width:12.2, height:12.2, fill:'#f00'}, plot);
    
    
  });
  // Cirasuolo circles with error bars
  p.cm.forEach(function(m,i){
    const cx = xScale(m), v = p.cp[i], cy = yScale(v);
    if (p.cl && (p.cl[i] > 0 || p.ch[i] > 0)) {
      const e = mk('line', {x1:cx, x2:cx, y1:yScale(v+p.ch[i]), y2:yScale(v-p.cl[i]), stroke:'#00f', 'stroke-width':'2'}, plot);
      
      
    }
    const c = mk('circle', {cx:cx, cy:cy, r:6.2, fill:'#00f'}, plot);
    
    
  });
  // Beare triangles
  p.bm.forEach(function(m,i){
    const cx = xScale(m), cy = yScale(p.bp[i]);
    const t = mk('polygon', {points:(cx)+','+(cy-7)+' '+(cx+6.8)+','+(cy+6)+' '+(cx-6.8)+','+(cy+6), fill:'#008000'}, plot);
    
    
  });

  // ticks
  const axes = mk('g', {stroke:SPINE, 'stroke-width':'1', fill:'none'}, g);
  
  
  const xTicks = p.row === 3 ? xTickMajor : xTickAll;
  xTicks.forEach(function(m){
    const x = xScale(m);
    if (x > p.L + p.W - 0.5) return;
    mk('line', {x1:x, x2:x, y1:p.T, y2:p.T+TICK}, axes);
    mk('line', {x1:x, x2:x, y1:p.T+H, y2:p.T+H-TICK}, axes);
  });
  for (let d = -8; d <= -2; d++) {
    for (let k = 1; k <= 9; k++) {
      const lv = d + Math.log10(k);
      if (lv < -7.301 || lv > -1) continue;
      const y = yScale(lv);
      mk('line', {x1:p.L, x2:p.L+TICK, y1:y, y2:y}, axes);
      mk('line', {x1:p.L+p.W, x2:p.L+p.W-TICK, y1:y, y2:y}, axes);
    }
  }
  mk('line', {x1:p.L, x2:p.L+TICK, y1:p.T, y2:p.T}, axes);
  mk('line', {x1:p.L+p.W, x2:p.L+p.W-TICK, y1:p.T, y2:p.T}, axes);

  // frame
  const frame = mk('rect', {x:p.L, y:p.T, width:p.W, height:H, fill:'none', stroke:SPINE, 'stroke-width':'1.3'}, g);
  
  

  // y tick labels on left column
  if (p.L === 106) {
    yDecades.forEach(function(d,i){
      if (d === -1 && p.row !== 0) return;
      const y = yScale(d);
      const t = mk('text', {x:50, y:y+9, 'font-size':'25'}, g);
      
      
      t.appendChild(document.createTextNode('10'));
      const s = mk('tspan', {'font-size':'17', dy:'-10'}, t);
      s.textContent = yDecadeLabels[i];
    });
  }
  // x tick labels on bottom row
  if (p.row === 3) {
    xTickMajor.forEach(function(m,i){
      const t = mk('text', {x:xScale(m), y:p.T+H+22.7, 'font-size':'25', 'text-anchor':'middle'}, g);
      
      
      t.textContent = xTickLabels[i];
    });
  }
});
</script>
</body>
</html>
